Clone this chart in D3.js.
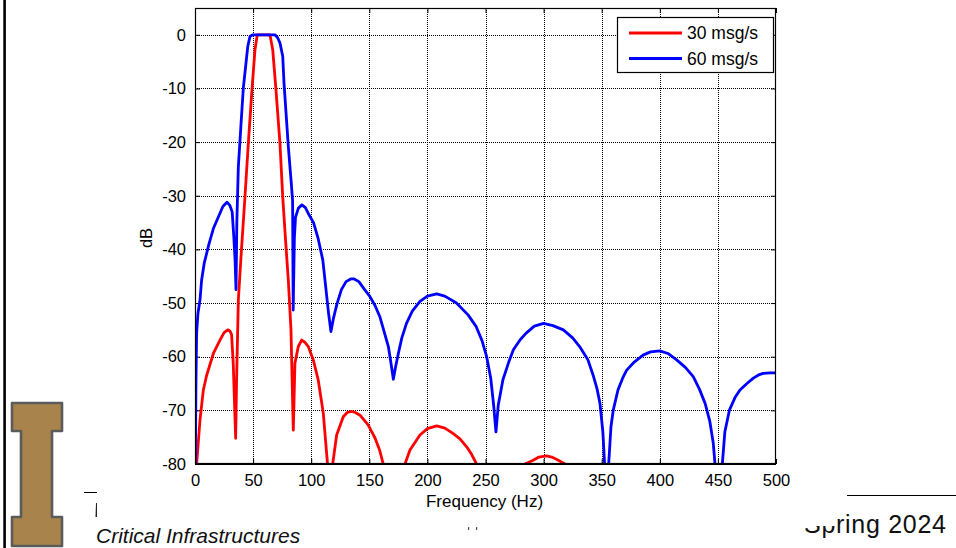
<!DOCTYPE html>
<html>
<head>
<meta charset="utf-8">
<script src="https://cdn.jsdelivr.net/npm/d3@7"></script>
<style>
  html, body { margin: 0; padding: 0; background: #fff; }
  svg { display: block; font-family: Arial, "Liberation Sans", sans-serif; }
</style>
</head>
<body>
<svg id="slide" width="956" height="548"></svg>
<script>
// Spectrum of a 30 msg/s and a 60 msg/s pulse train (dB vs. frequency)
const freq30 = [0.5, 1.4, 4.3, 7.2, 10, 15.8, 21.5, 25, 28.1, 30, 31.5, 32.9, 35, 35.8, 37.3, 40, 43, 45.9, 48.8, 51.6, 53.6,
  64.5, 66.9, 69.7, 73.1, 75.5, 78, 80.3, 82.6, 84.6, 86, 88.9, 91.8, 94.5, 97.5, 101.8, 106, 110.4, 114, 116,
  118.5, 121.9, 127.6, 131, 134.7, 138, 142, 149, 155, 159, 162, 171, 180.7, 185, 193.6, 200, 208, 215, 222, 228,
  233.8, 238, 242.3, 262, 284, 291, 296, 302.4, 307, 311, 318.4, 335];
const db30 = [-88, -80, -71.8, -66.2, -63.5, -59.4, -56.9, -55.5, -55, -55.2, -55.9, -61.2, -75.2, -64.3, -49.4, -40, -30.2, -20.2, -10.9, -2.8, 0,
  0, -2.8, -10.3, -20.2, -30.2, -38.5, -45.7, -55, -73.7, -61.2, -58.1, -56.9, -57.3, -58.1, -60.6, -64.3, -70.5, -79.9, -90,
  -80, -74.6, -71.2, -70.4, -70.2, -70.4, -70.9, -72.7, -75.2, -77.5, -80, -95, -80, -77.4, -74.6, -73.4, -72.9, -73.3, -74.3, -75.3,
  -76.8, -78.2, -80, -95, -80, -79.3, -78.7, -78.5, -78.7, -79.1, -80, -95];

const freq60 = [0.3, 0.8, 1.4, 2.5, 4.3, 5.7, 8, 12, 16, 20, 24, 27.5, 30, 32, 33.5, 34.5, 35.3, 36, 37.3, 39.5, 41.6, 45.4, 47.3, 49.7,
  68.8, 71, 73.1, 75.5, 76.6, 80.3, 83, 84, 84.5, 85.5, 86.5, 89, 92, 95, 98, 102, 106, 110, 113, 115, 117, 119, 122, 126, 130,
  134, 137, 141, 146, 150.6, 155, 159, 163, 166.4, 168.5, 170.7, 172.5, 175, 178, 182, 187, 193.6, 200, 208, 215, 225, 235, 242,
  247, 251, 254.5, 257, 259, 261, 265, 270, 274, 280, 285, 292, 300, 308, 317, 325, 331, 338, 343, 346, 348.5, 351, 352.5, 354.3,
  356, 358, 360, 364, 368, 371.5, 378, 385.6, 392, 400, 407, 414.5, 422, 428.8, 434, 439, 443, 446, 447.5, 450.5, 453.8, 456,
  460, 465, 469, 475, 480.5, 485, 489, 495, 500];
const db60 = [-80, -65, -55.6, -52, -49.4, -45.7, -42.5, -39, -36, -34, -32, -31.2, -31.8, -33, -38, -42, -47.5, -35, -24.6, -17, -9.9, -2.2, -0.3, 0,
  0, -0.5, -1.5, -4, -9, -20.8, -28, -31, -51.3, -38, -34, -32.3, -31.7, -32.2, -33.5, -35, -38, -42, -48, -52, -55.3, -53, -50.3, -47.5, -46,
  -45.5, -45.5, -46, -47.5, -48.8, -50.5, -52.5, -55.5, -58.1, -61, -64.2, -62, -59.4, -56.5, -53.8, -51.5, -49.7, -48.7, -48.3, -48.7, -50, -52.2, -54.4,
  -57, -60, -64, -69, -74, -69, -64.3, -61, -58.7, -56.8, -55.6, -54.3, -53.8, -54.2, -55, -56.5, -58.1, -60.5, -63.7, -66, -68.7, -74, -80, -92,
  -80, -73, -69.9, -66.2, -64, -62.5, -61, -59.7, -59.1, -58.9, -59.4, -60.6, -62, -63.7, -66, -68.7, -72, -76.1, -80, -92, -80, -74,
  -69.9, -67.5, -66.2, -65, -64, -63.4, -63.1, -63, -63];

const seriesNames = ["30 msg/s", "60 msg/s"];
const seriesColors = ["#ff0000", "#0000ff"];
const xTicks = [0, 50, 100, 150, 200, 250, 300, 350, 400, 450, 500];
const yTicks = [0, -10, -20, -30, -40, -50, -60, -70, -80];

const svg = d3.select("#slide");

// ---- slide furniture behind the figure ----
svg.append("rect").attr("width", 956).attr("height", 548).attr("fill", "#fff");
svg.append("line").attr("x1", 4.6).attr("x2", 4.6).attr("y1", 0).attr("y2", 548)
  .attr("stroke", "#000").attr("stroke-width", 2.6);
svg.append("line").attr("x1", 84).attr("x2", 140).attr("y1", 492.5).attr("y2", 492.5)
  .attr("stroke", "#000").attr("stroke-width", 1.2);
svg.append("path").attr("d", "M96,503 L97.5,503 L97.5,517 L95.5,517 Z").attr("fill", "#222");
svg.append("line").attr("x1", 847).attr("x2", 956).attr("y1", 495.5).attr("y2", 495.5)
  .attr("stroke", "#000").attr("stroke-width", 1.2);
svg.append("text").attr("x", 804).attr("y", 533).attr("font-size", 25)
  .attr("textLength", 142).attr("lengthAdjust", "spacing").attr("fill", "#111").text("Spring 2024");
svg.append("text").attr("x", 96).attr("y", 543).attr("font-size", 21).attr("font-style", "italic")
  .attr("fill", "#111").text("Critical Infrastructures");
svg.append("rect").attr("x", 468).attr("y", 527).attr("width", 1.2).attr("height", 3).attr("fill", "#555");
svg.append("rect").attr("x", 476).attr("y", 527).attr("width", 1.2).attr("height", 3).attr("fill", "#555");

// figure background (covers part of the slide behind it)
svg.append("rect").attr("x", 97).attr("y", 0).attr("width", 739).attr("height", 526).attr("fill", "#fff");

// ---- logo ----
const logo = "M12,403 L62,403 L62,431 L52,431 L52,517 L62,517 L62,546 L12,546 L12,517 L21,517 L21,431 L12,431 Z";
svg.append("path").attr("d", logo).attr("fill", "#a8844c").attr("stroke", "#5b5b5b")
  .attr("stroke-width", 2.6).attr("stroke-linejoin", "round");

// ---- chart ----
const plotL = 195, plotR = 776, plotT = 8, plotB = 464;
const x = d3.scaleLinear().domain([0, 500]).range([plotL, plotR]);
const y = d3.scaleLinear().domain([-80, 5]).range([plotB, plotT]);

const g = svg.append("g");

// dotted grid
g.append("g").selectAll("line").data(xTicks.slice(1, -1)).join("line")
  .attr("x1", d => Math.round(x(d)) + 0.5).attr("x2", d => Math.round(x(d)) + 0.5)
  .attr("y1", plotT).attr("y2", plotB)
  .attr("stroke", "#000").attr("stroke-width", 1).attr("stroke-dasharray", "1,1");
g.append("g").selectAll("line").data(yTicks.slice(0, -1)).join("line")
  .attr("y1", d => Math.round(y(d)) + 0.5).attr("y2", d => Math.round(y(d)) + 0.5)
  .attr("x1", plotL).attr("x2", plotR)
  .attr("stroke", "#000").attr("stroke-width", 1).attr("stroke-dasharray", "1,1");

// axes with inward ticks on all four sides
const plain = d => String(d);
const axisBottom = d3.axisBottom(x).tickValues(xTicks).tickFormat(plain).tickSizeInner(-5).tickSizeOuter(0).tickPadding(10);
const axisTop = d3.axisTop(x).tickValues(xTicks).tickSizeInner(-5).tickSizeOuter(0).tickFormat("");
const axisLeft = d3.axisLeft(y).tickValues(yTicks).tickFormat(plain).tickSizeInner(-5).tickSizeOuter(0).tickPadding(9);
const axisRight = d3.axisRight(y).tickValues(yTicks).tickSizeInner(-5).tickSizeOuter(0).tickFormat("");

function styleAxis(sel) {
  sel.selectAll(".domain").remove();
  sel.selectAll("line").attr("stroke", "#000");
  sel.selectAll("text").attr("font-size", 16.5).attr("fill", "#000")
    .attr("font-family", "Arial, 'Liberation Sans', sans-serif");
}
g.append("g").attr("transform", `translate(0,${plotB})`).call(axisBottom).call(styleAxis);
g.append("g").attr("transform", `translate(0,${plotT})`).call(axisTop).call(styleAxis);
g.append("g").attr("transform", `translate(${plotL},0)`).call(axisLeft).call(styleAxis);
g.append("g").attr("transform", `translate(${plotR},0)`).call(axisRight).call(styleAxis);

// curves, clipped to the plot box
svg.append("defs").append("clipPath").attr("id", "plotclip")
  .append("rect").attr("x", plotL).attr("y", plotT).attr("width", plotR - plotL).attr("height", plotB - plotT);

const line = d3.line().x(d => x(d[0])).y(d => y(d[1]));
const series = [
  d3.zip(freq30, db30),
  d3.zip(freq60, db60)
];
g.append("g").attr("clip-path", "url(#plotclip)").selectAll("path").data(series).join("path")
  .attr("d", line).attr("fill", "none")
  .attr("stroke", (d, i) => seriesColors[i]).attr("stroke-width", 2.8)
  .attr("stroke-linejoin", "round");

// plot frame
g.append("rect").attr("x", plotL + 0.5).attr("y", plotT + 0.5)
  .attr("width", plotR - plotL - 1).attr("height", plotB - plotT - 1)
  .attr("fill", "none").attr("stroke", "#000").attr("stroke-width", 1.2);
g.append("line").attr("x1", plotL).attr("x2", plotR).attr("y1", plotB).attr("y2", plotB)
  .attr("stroke", "#000").attr("stroke-width", 2);

// axis titles
g.append("text").attr("x", (plotL + plotR) / 2 - 1).attr("y", 507).attr("text-anchor", "middle")
  .attr("font-size", 17).text("Frequency (Hz)");
g.append("text").attr("transform", `translate(152,238) rotate(-90)`).attr("text-anchor", "middle")
  .attr("font-size", 16.5).text("dB");

// legend
const lg = g.append("g");
lg.append("rect").attr("x", 617.5).attr("y", 17.5).attr("width", 156).attr("height", 55)
  .attr("fill", "#fff").attr("stroke", "#000").attr("stroke-width", 1.2);
seriesNames.forEach((name, i) => {
  const yy = 33 + i * 25.5;
  lg.append("line").attr("x1", 629).attr("x2", 682).attr("y1", yy).attr("y2", yy)
    .attr("stroke", seriesColors[i]).attr("stroke-width", 2.8);
  lg.append("text").attr("x", 687).attr("y", yy + 6).attr("font-size", 17.5).text(name);
});
</script>
</body>
</html>
